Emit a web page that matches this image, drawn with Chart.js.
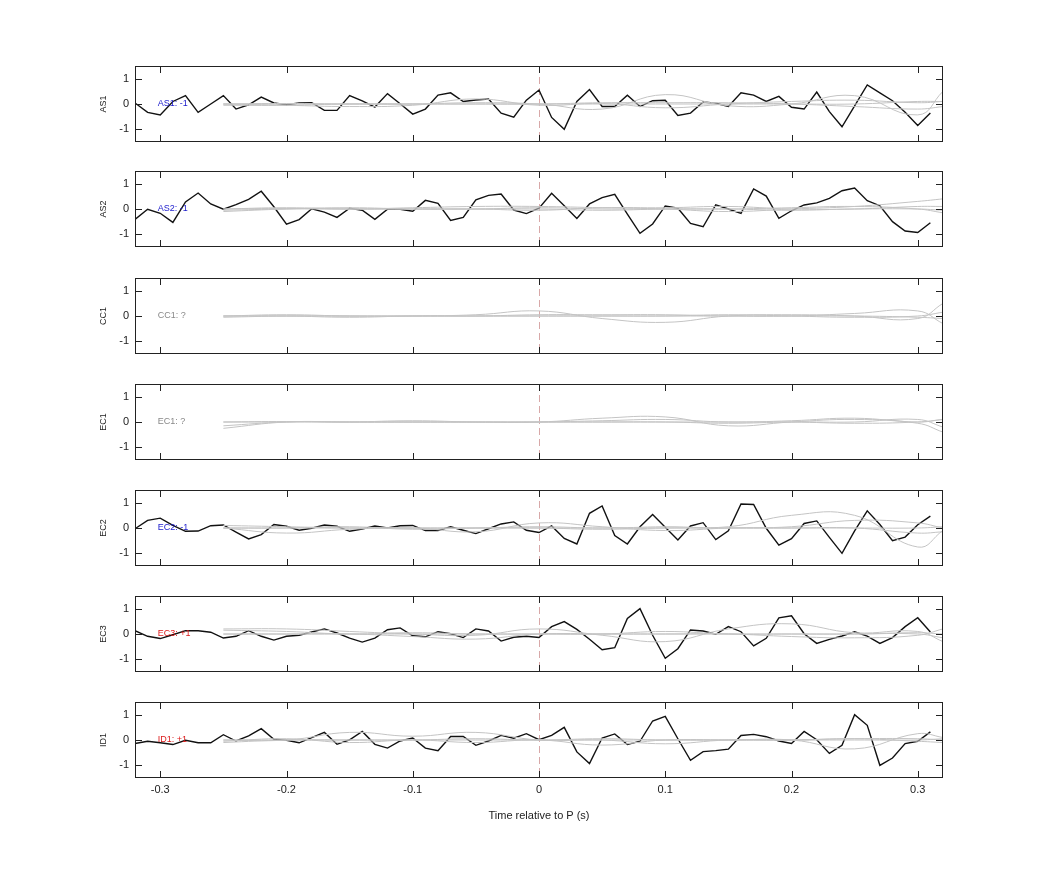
<!DOCTYPE html>
<html><head><meta charset="utf-8">
<script src="https://cdn.jsdelivr.net/npm/chart.js@4/dist/chart.umd.min.js"></script>
<style>body{margin:0;background:#fff;width:1042px;height:875px;position:relative;overflow:hidden}canvas{position:absolute;left:0}</style>
</head><body>
<script>
const TIME=[-0.32,-0.31,-0.30,-0.29,-0.28,-0.27,-0.26,-0.25,-0.24,-0.23,-0.22,-0.21,-0.20,-0.19,-0.18,-0.17,-0.16,-0.15,-0.14,-0.13,-0.12,-0.11,-0.10,-0.09,-0.08,-0.07,-0.06,-0.05,-0.04,-0.03,-0.02,-0.01,0.00,0.01,0.02,0.03,0.04,0.05,0.06,0.07,0.08,0.09,0.10,0.11,0.12,0.13,0.14,0.15,0.16,0.17,0.18,0.19,0.20,0.21,0.22,0.23,0.24,0.25,0.26,0.27,0.28,0.29,0.30,0.31];
const GTIME=[-0.25,-0.20,-0.15,-0.10,-0.05,0.00,0.05,0.10,0.15,0.20,0.25,0.30,0.32];
const CHANNELS=["AS1","AS2","CC1","EC1","EC2","EC3","ID1"];
const LABELS=["AS1: -1","AS2: -1","CC1: ?","EC1: ?","EC2: -1","EC3: +1","ID1: +1"];
const LABEL_COLORS=["#1a1acc","#1a1acc","#888888","#888888","#1a1acc","#dd1a1a","#dd1a1a"];
const X_TICKS=[-0.3,-0.2,-0.1,0,0.1,0.2,0.3];
const X_TICK_LABELS=["-0.3","-0.2","-0.1","0","0.1","0.2","0.3"];
const Y_TICKS=[-1,0,1];
const X_TITLE="Time relative to P (s)";
const AS1=[0.04,-0.33,-0.43,0.1,0.33,-0.33,0,0.33,-0.2,-0.03,0.27,0.04,-0.03,0.04,0.05,-0.25,-0.25,0.33,0.12,-0.12,0.41,0.01,-0.4,-0.2,0.35,0.44,0.1,0.16,0.2,-0.36,-0.52,0.15,0.55,-0.53,-1.0,0.1,0.57,-0.1,-0.1,0.35,-0.1,0.13,0.15,-0.45,-0.36,0.08,0.03,-0.1,0.44,0.35,0.1,0.3,-0.13,-0.2,0.47,-0.3,-0.9,-0.07,0.75,0.44,0.13,-0.33,-0.85,-0.36];
const AS2=[-0.41,-0.01,-0.17,-0.53,0.28,0.63,0.2,-0.01,0.17,0.38,0.7,0.09,-0.6,-0.42,0.01,-0.12,-0.33,0.03,-0.05,-0.41,-0.01,-0.01,-0.09,0.34,0.22,-0.45,-0.33,0.36,0.54,0.59,-0.04,-0.18,0.03,0.62,0.13,-0.37,0.2,0.45,0.58,-0.2,-0.96,-0.59,0.12,0.03,-0.57,-0.7,0.16,0,-0.17,0.79,0.51,-0.37,-0.07,0.16,0.24,0.42,0.72,0.83,0.33,0.13,-0.5,-0.87,-0.93,-0.54];
const EC2=[-0.03,0.3,0.39,0.1,-0.13,-0.12,0.09,0.12,-0.16,-0.43,-0.26,0.14,0.07,-0.09,-0.01,0.12,0.07,-0.13,-0.04,0.08,0,0.09,0.1,-0.1,-0.1,0.05,-0.09,-0.22,-0.03,0.16,0.24,-0.09,-0.18,0.08,-0.41,-0.63,0.58,0.87,-0.3,-0.63,0.05,0.53,0.03,-0.47,0.08,0.21,-0.46,-0.11,0.95,0.93,-0.01,-0.68,-0.42,0.18,0.28,-0.37,-1.0,-0.11,0.68,0.14,-0.5,-0.36,0.13,0.47];
const EC3=[0.13,-0.09,-0.18,-0.03,0.13,0.13,0.07,-0.16,-0.09,0.13,-0.09,-0.24,-0.09,-0.05,0.08,0.2,0.04,-0.16,-0.32,-0.16,0.17,0.24,-0.07,-0.11,0.09,0.01,-0.14,0.2,0.12,-0.28,-0.13,-0.09,-0.14,0.29,0.49,0.18,-0.21,-0.62,-0.54,0.61,1.0,-0.05,-0.96,-0.58,0.16,0.12,-0.01,0.29,0.09,-0.47,-0.17,0.64,0.72,0.01,-0.37,-0.21,-0.08,0.09,-0.08,-0.37,-0.14,0.29,0.64,0.08];
const ID1=[-0.14,-0.05,-0.11,-0.18,-0.01,-0.11,-0.11,0.21,-0.04,0.16,0.45,0.03,-0.01,-0.11,0.09,0.3,-0.17,0.01,0.34,-0.17,-0.32,-0.04,0.08,-0.32,-0.42,0.14,0.14,-0.21,-0.04,0.18,0.07,0.25,0.01,0.18,0.5,-0.47,-0.93,0.08,0.24,-0.18,-0.05,0.75,0.93,0.05,-0.8,-0.46,-0.42,-0.36,0.18,0.22,0.13,-0.04,-0.14,0.34,0.01,-0.53,-0.21,1.0,0.58,-1.0,-0.71,-0.14,-0.05,0.32];
const BLACK=[AS1,AS2,null,null,EC2,EC3,ID1];
const GRAY_AS1=[[0,0.02,0,0,0.05,0,-0.2,0.37,-0.07,0,0.33,-0.43,0.5],[0,-0.05,-0.1,-0.05,0.2,-0.05,0.02,-0.15,0,0.1,0.15,0.05,0.1],[0,0,0,0,0,0,0.05,0.05,0.05,0,-0.1,-0.2,-0.1],[-0.05,-0.05,0,0,0,0,0,0,0,0,0,0.1,0.1]];
const GRAY_AS2=[[0,0.05,0,0.05,0.1,0.1,0.05,0,-0.1,0,0.1,0.3,0.4],[-0.1,0,0.05,0,0,-0.05,0.05,0.05,0.1,0,0,0.1,0.1],[0,0.02,0,0,0,0,-0.05,0,0,0.05,0.1,0,-0.15],[-0.05,0,0,0,0,0.05,0,0,0,-0.05,0,0,-0.05]];
const GRAY_CC1=[[0,0.05,0,0,0.05,0.2,-0.1,-0.25,0,0.05,0,-0.1,0.5],[0,0,-0.05,0,0,0.05,0.05,0.05,0,0,0.1,0.2,-0.3],[-0.05,0,0,0,0,0,0,0,0.05,0,-0.05,0,0.15],[0,0,0,0,0,0,0,0,0,0,0,-0.05,-0.1]];
const GRAY_EC1=[[-0.25,0,0,0.05,0,0,0.15,0.2,-0.15,0,0.1,-0.05,-0.4],[-0.15,0,0,0,0,0,0.05,0.1,0,0.05,0.15,0,0.1],[0,0.02,0,0,0,0,0,0,-0.05,0,0,0.1,-0.2],[0,0,0,0,0,0,0,0,0,0,-0.05,0,0.1]];
const GRAY_EC2=[[0.1,0.05,0,0,0,0.05,0,0.05,0.05,0.5,0.5,-0.75,-0.1],[0,-0.2,-0.05,0,-0.15,0.2,0.05,-0.1,0,0.05,0.3,0.2,0],[0,0,0.05,-0.05,0,0,-0.05,0,0,0,0,-0.2,-0.15],[0,0,0,0,0,0,0,0,0,0,0,0,0.05]];
const GRAY_EC3=[[0.2,0.2,0.1,0,-0.05,0.2,-0.05,-0.3,0.2,0.4,0.05,0.1,-0.3],[0.15,0.1,0,0.05,0,0,0,0.1,0,0,0,0,-0.15],[0,0,0,-0.1,-0.2,0,0,0,0,-0.1,-0.15,-0.05,0.2],[0,0,0,0,0,0,0,0,0,0,0,0.05,0]];
const GRAY_ID1=[[0,0,0.3,0.15,0.3,0,0,-0.15,0,0,0.05,0.05,0],[-0.05,0.05,-0.1,0,-0.1,0,-0.2,0,0,0,-0.35,0.25,0.1],[0,0,0,0,0,0,0,0,0,0,0.05,-0.05,-0.1],[-0.1,0,0,0,0.05,0,0.05,0,0,0,0,0,0.05]];
const GRAYS=[GRAY_AS1,GRAY_AS2,GRAY_CC1,GRAY_EC1,GRAY_EC2,GRAY_EC3,GRAY_ID1];
const PANEL_TOPS=[66,171,278,384,490,596,702];
const PANEL_H=76, PAD_T=6, PAD_B=6, PAD_L=135, PAD_R=99, LAST_EXTRA=60;
const FONT='"Liberation Sans", Arial, sans-serif';

const framePlugin={id:'frame',
 beforeDatasetsDraw(c){const a=c.chartArea,x=c.scales.x,ctx=c.ctx;ctx.save();ctx.strokeStyle='#d8a8a8';ctx.lineWidth=1;ctx.setLineDash([7,4]);const px=Math.round(x.getPixelForValue(0))+0.5;ctx.beginPath();ctx.moveTo(px,a.top);ctx.lineTo(px,a.bottom);ctx.stroke();ctx.restore();},
 afterDatasetsDraw(c){const a=c.chartArea,x=c.scales.x,y=c.scales.y,ctx=c.ctx,o=c.options.plugins.frame;ctx.save();ctx.strokeStyle='#222';ctx.lineWidth=1;ctx.strokeRect(a.left+0.5,a.top+0.5,a.right-a.left-1,a.bottom-a.top-1);ctx.beginPath();
  X_TICKS.forEach(v=>{const p=Math.round(x.getPixelForValue(v))+0.5;ctx.moveTo(p,a.top);ctx.lineTo(p,a.top+7);ctx.moveTo(p,a.bottom);ctx.lineTo(p,a.bottom-7);});
  Y_TICKS.forEach(v=>{const p=Math.round(y.getPixelForValue(v))+0.5;ctx.moveTo(a.left,p);ctx.lineTo(a.left+7,p);ctx.moveTo(a.right,p);ctx.lineTo(a.right-7,p);});
  ctx.stroke();
  ctx.fillStyle='#222';ctx.font='11px '+FONT;ctx.textAlign='right';ctx.textBaseline='middle';
  Y_TICKS.forEach(v=>ctx.fillText(String(v),a.left-6,y.getPixelForValue(v)));
  ctx.save();ctx.translate(104,(a.top+a.bottom)/2);ctx.rotate(-Math.PI/2);ctx.textAlign='center';ctx.font='9px '+FONT;ctx.fillText(o.channel,0,0);ctx.restore();
  if(o.last){ctx.textAlign='center';ctx.textBaseline='top';ctx.font='11px '+FONT;X_TICKS.forEach((v,k)=>ctx.fillText(X_TICK_LABELS[k],x.getPixelForValue(v),a.bottom+6));ctx.fillText(X_TITLE,(a.left+a.right)/2,a.bottom+32);}
  ctx.textAlign='left';ctx.textBaseline='middle';ctx.font='9px '+FONT;ctx.fillStyle=o.color;ctx.fillText(o.text,x.getPixelForValue(-0.302),y.getPixelForValue(0));ctx.restore();}};

PANEL_TOPS.forEach((top,i)=>{
 const last=i===6;const cv=document.createElement('canvas');const h=PANEL_H+PAD_T+PAD_B+(last?LAST_EXTRA:0);
 cv.style.top=(top-PAD_T)+'px';cv.style.width='1042px';cv.style.height=h+'px';cv.width=1042;cv.height=h;document.body.appendChild(cv);
 const ds=[];
 GRAYS[i].forEach(g=>ds.push({data:GTIME.map((t,k)=>({x:t,y:g[k]})),borderColor:'#c4c4c4',borderWidth:1,pointRadius:0,tension:0.45}));
 if(BLACK[i])ds.push({data:TIME.map((t,k)=>({x:t,y:BLACK[i][k]})),borderColor:'#111',borderWidth:1.4,pointRadius:0,tension:0});
 new Chart(cv,{type:'line',data:{datasets:ds},plugins:[framePlugin],options:{responsive:false,animation:false,devicePixelRatio:1,
  layout:{padding:{top:PAD_T,right:PAD_R,left:PAD_L,bottom:PAD_B+(last?LAST_EXTRA:0)}},
  plugins:{legend:{display:false},tooltip:{enabled:false},frame:{text:LABELS[i],color:LABEL_COLORS[i],channel:CHANNELS[i],last:last}},
  scales:{x:{type:'linear',min:-0.32,max:0.32,display:false},y:{min:-1.5,max:1.5,display:false}}}});
});
</script>
</body></html>
